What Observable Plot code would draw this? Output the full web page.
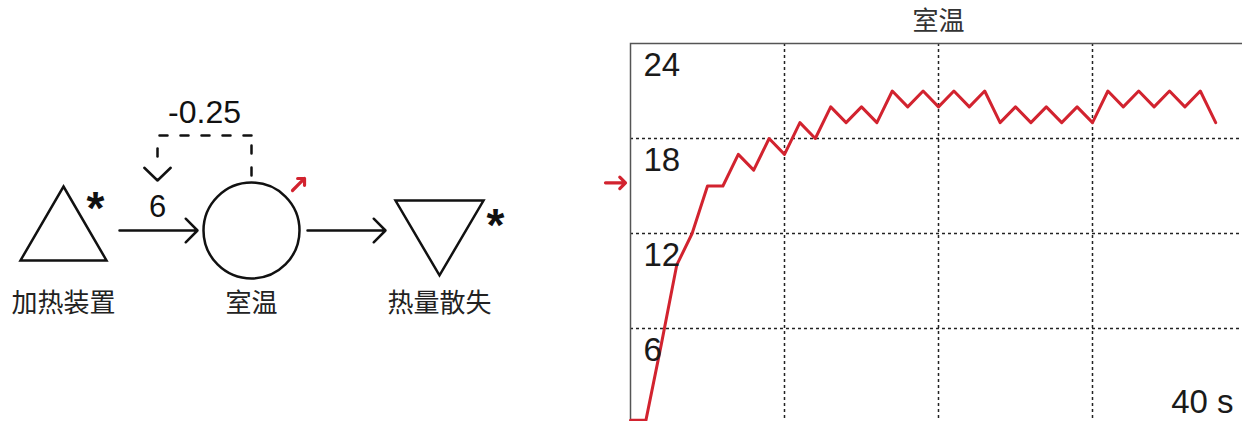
<!DOCTYPE html>
<html>
<head>
<meta charset="utf-8">
<script src="https://cdn.jsdelivr.net/npm/d3@7"></script>
<script src="https://cdn.jsdelivr.net/npm/@observablehq/plot@0.6"></script>
<style>
html, body { margin: 0; padding: 0; background: #fff; overflow: hidden; width: 1242px; height: 421px; }
#diagram { position: absolute; left: 0; top: 0; width: 600px; height: 421px; }
#chart { position: absolute; left: 600px; top: 0; width: 650px; height: 423px; }
</style>
</head>
<body>
<div id="diagram"></div>
<div id="chart"></div>
<script>
// ---------- Diagram data ----------
const nodeNames = ["加热装置", "室温", "热量散失"];
const nodeKinds = ["source", "stock", "sink"];
const flowFrom = [0, 1];
const flowTo = [1, 2];
const flowRateLabels = ["6", ""];
const feedbackCoefficient = "-0.25";

// ---------- Chart data ----------
const chartTitle = "室温";
const timeSeconds = [0, 1, 2, 3, 4, 5, 6, 7, 8, 9, 10, 11, 12, 13, 14, 15, 16, 17, 18, 19,
  20, 21, 22, 23, 24, 25, 26, 27, 28, 29, 30, 31, 32, 33, 34, 35, 36, 37, 38];
const roomTemperature = [0.2, 0.2, 5, 10, 12, 15, 15, 17, 16, 18, 17, 19, 18, 20, 19, 20, 19, 21, 20, 21,
  20, 21, 20, 21, 19, 20, 19, 20, 19, 20, 19, 21, 20, 21, 20, 21, 20, 21, 19];
const yTickValues = [24, 18, 12, 6];
const yGridValues = [6, 12, 18];
const xGridValues = [10, 20, 30];
const xEndLabel = "40 s";
const markerValue = 15.2;

// ---------- Styles ----------
const RED = "#d2232f";
const INK = "#111";
const LATIN = "'Liberation Sans', Arial, Helvetica, sans-serif";
const CJK = "'Noto Sans CJK SC', 'Noto Sans', sans-serif";

// custom symbols for source / sink
const triUp = { draw(ctx, size) { const r = Math.sqrt(size / Math.PI);
  ctx.moveTo(0, -r); ctx.lineTo(r * 0.977, r * 0.68); ctx.lineTo(-r * 0.977, r * 0.68); ctx.closePath(); } };
const triDown = { draw(ctx, size) { const r = Math.sqrt(size / Math.PI);
  ctx.moveTo(-r, -r * 0.68); ctx.lineTo(r, -r * 0.68); ctx.lineTo(0, r * 1.02); ctx.closePath(); } };

const nodes = nodeNames.map((name, i) => ({ name, kind: nodeKinds[i], i }));
const flows = flowFrom.map((f, i) => ({ from: f, to: flowTo[i], label: flowRateLabels[i] }));
const stockIndex = nodeKinds.indexOf("stock");
const fb = [{ stock: stockIndex, flowMid: (flows[0].from + flows[0].to) / 2, label: feedbackCoefficient }];
const zero = () => 0, one = () => 1;

const diagram = Plot.plot({
  width: 600, height: 421, margin: 0,
  x: { domain: [0, 2], range: [63, 439], axis: null },
  y: { domain: [0, 1], range: [230, 135], axis: null },
  style: { fontFamily: LATIN, maxWidth: "none", background: "white" },
  marks: [
    Plot.dot(nodes.filter(d => d.kind === "source"), { x: "i", y: zero, r: 44, symbol: triUp, fill: "none", stroke: INK, strokeWidth: 2.5 }),
    Plot.dot(nodes.filter(d => d.kind === "sink"), { x: "i", y: zero, r: 44, symbol: triDown, fill: "none", stroke: INK, strokeWidth: 2.5 }),
    Plot.dot(nodes.filter(d => d.kind === "stock"), { x: "i", y: zero, r: 48, symbol: "circle", fill: "none", stroke: INK, strokeWidth: 2.5 }),
    Plot.text(nodes.filter(d => d.kind === "source"), { x: "i", y: zero, text: () => "*", dx: 32, dy: -21, fontSize: 46, fontWeight: "bold", fill: INK }),
    Plot.text(nodes.filter(d => d.kind === "sink"), { x: "i", y: zero, text: () => "*", dx: 56, dy: -4, fontSize: 46, fontWeight: "bold", fill: INK }),
    Plot.text(nodes, { x: "i", y: zero, text: "name", dy: 73, fontSize: 26, fontFamily: CJK, fill: "#222" }),
    // flows
    Plot.arrow(flows, { x1: "from", x2: "to", y1: zero, y2: zero, insetStart: 56, insetEnd: 54, headLength: 10, headAngle: 90, stroke: INK, strokeWidth: 2.5 }),
    Plot.text(flows.filter(d => d.label), { x: d => (d.from + d.to) / 2, y: zero, text: "label", dy: -23, fontSize: 31, fill: INK }),
    // feedback (dashed)
    Plot.arrow(fb, { x1: "stock", x2: "stock", y1: zero, y2: one, insetStart: 53, headLength: 0, stroke: INK, strokeWidth: 2.5, strokeDasharray: "8,14", strokeDashoffset: 20 }),
    Plot.arrow(fb, { x1: "stock", x2: "flowMid", y1: one, y2: one, headLength: 0, stroke: INK, strokeWidth: 2.5, strokeDasharray: "8,13" }),
    Plot.arrow(fb, { x1: "flowMid", x2: "flowMid", y1: one, y2: zero, insetEnd: 70, headLength: 0, stroke: INK, strokeWidth: 2.5, strokeDasharray: "8,13", strokeDashoffset: 8 }),
    Plot.arrow(fb, { x1: "flowMid", x2: "flowMid", y1: one, y2: zero, insetStart: 44, insetEnd: 50, headLength: 11, headAngle: 92, stroke: INK, strokeWidth: 2.5 }),
    Plot.text(fb, { x: d => (d.stock + d.flowMid) / 2, y: one, text: "label", dy: -23, fontSize: 32, fill: INK }),
    // trend indicator
    Plot.vector(nodes.filter(d => d.kind === "stock"), { x: "i", y: zero, dx: 41, dy: -40, rotate: 45, length: 17, r: 5, anchor: "start", stroke: RED, strokeWidth: 3.2 })
  ]
});
document.getElementById("diagram").appendChild(diagram);

// ---------- Chart ----------
const chartData = timeSeconds.map((t, i) => ({ t, v: roomTemperature[i] }));
const chart = Plot.plot({
  width: 650, height: 423, marginLeft: 30, marginRight: 4, marginTop: 43, marginBottom: 0,
  x: { domain: [0, 40], axis: null },
  y: { domain: [0, 24], axis: null },
  style: { fontFamily: LATIN, maxWidth: "none", background: "white", overflow: "visible" },
  marks: [
    Plot.ruleY(yGridValues, { stroke: "#222", strokeWidth: 1.5, strokeDasharray: "3,3" }),
    Plot.ruleX(xGridValues, { stroke: "#222", strokeWidth: 1.5, strokeDasharray: "3,3" }),
    Plot.frame({ stroke: "#555", strokeWidth: 1.5 }),
    Plot.line(chartData, { x: "t", y: "v", stroke: RED, strokeWidth: 3 }),
    Plot.text(yTickValues, { x: zero, y: d => d, text: d => String(d), dx: 13, dy: 9, textAnchor: "start", lineAnchor: "top", fontSize: 33, fill: "#1a1a1a" }),
    Plot.text([xEndLabel], { x: () => 40, y: zero, text: d => d, dx: -13, dy: -11, textAnchor: "end", lineAnchor: "bottom", fontSize: 33, fill: "#1a1a1a" }),
    Plot.text([chartTitle], { x: () => 20, y: () => 24, text: d => d, dy: -22, fontSize: 26, fontFamily: CJK, fill: "#333" }),
    Plot.vector([markerValue], { x: zero, y: d => d, rotate: 90, length: 20, r: 5, anchor: "end", dx: -5, stroke: RED, strokeWidth: 3.2 })
  ]
});
document.getElementById("chart").appendChild(chart);
</script>
</body>
</html>
